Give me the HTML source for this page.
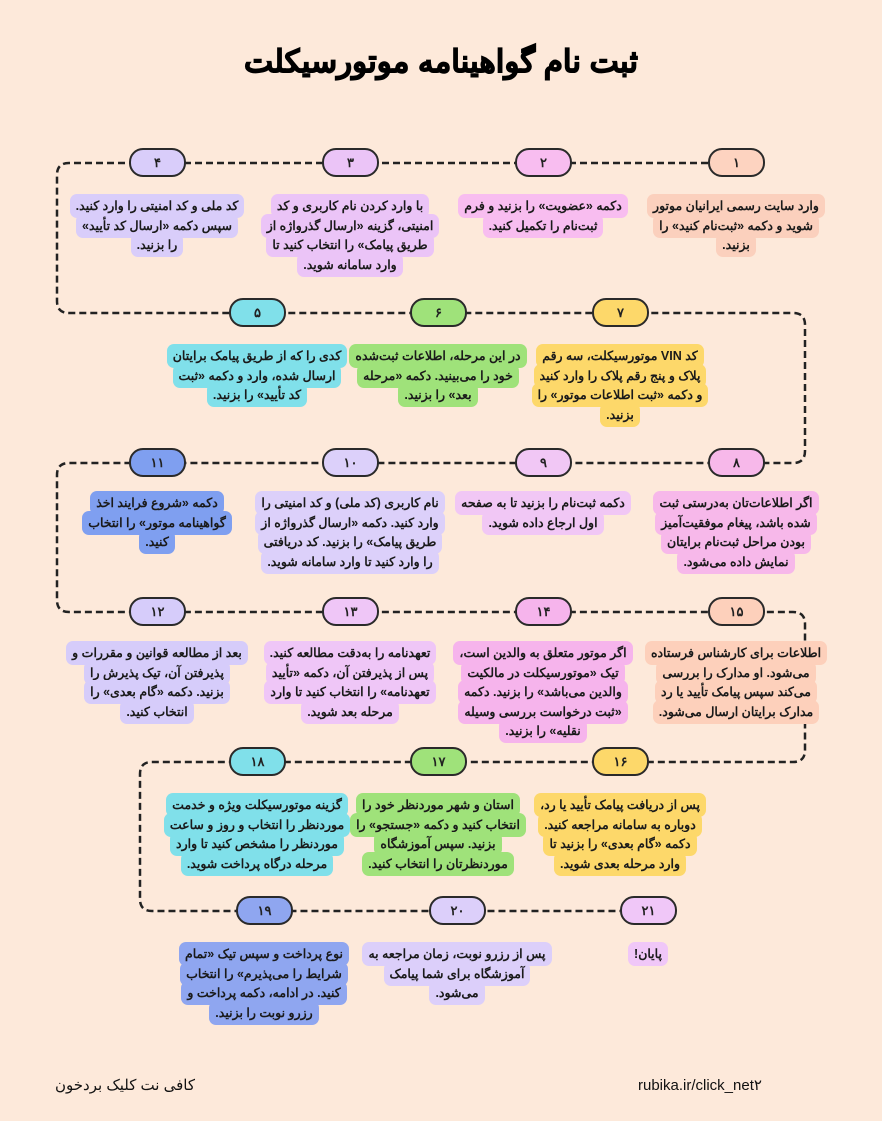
<!DOCTYPE html>
<html><head><meta charset="utf-8"><style>
body{margin:0;width:882px;height:1121px;background:#fde9da;position:relative;overflow:hidden;font-family:"Liberation Sans","Noto Sans CJK SC",sans-serif;}
.t{position:absolute;top:44px;left:0;width:882px;text-align:center;font-size:31px;font-weight:900;direction:rtl;color:#000;-webkit-text-stroke:1px #000;}
.p{position:absolute;width:53px;height:25px;border:2px solid #2a2a2a;border-radius:14px;text-align:center;line-height:25px;font-size:13px;font-weight:bold;color:#222;box-sizing:content-box;}
.b{position:absolute;width:190px;text-align:center;direction:rtl;font-size:12.5px;font-weight:bold;line-height:19.5px;color:#1a1a1a;}
.b span{padding:5px 6px;border-radius:7px;-webkit-box-decoration-break:clone;box-decoration-break:clone;}
.f{position:absolute;top:1076px;font-size:15px;color:#111;}
</style></head><body>
<div class="t">ثبت نام گواهینامه موتورسیکلت</div>
<svg width="882" height="1121" style="position:absolute;left:0;top:0">
<path d="M708,163 H69 Q57,163 57,175 V301 Q57,313 69,313 H793 Q805,313 805,325 V451 Q805,463 793,463 H69 Q57,463 57,475 V600 Q57,612 69,612 H793 Q805,612 805,624 V750 Q805,762 793,762 H152 Q140,762 140,774 V899 Q140,911 152,911 H620" fill="none" stroke="#222" stroke-width="2.5" stroke-dasharray="7,4"/>
</svg>
<!-- row1 -->
<div class="p" style="left:708px;top:148px;background:#fdd3c0">۱</div>
<div class="p" style="left:515px;top:148px;background:#f8bdf0">۲</div>
<div class="p" style="left:322px;top:148px;background:#ebc4f7">۳</div>
<div class="p" style="left:129px;top:148px;background:#d9cdfa">۴</div>
<div class="b" style="left:641px;top:197px"><span style="background:#fbd0bd">وارد سایت رسمی ایرانیان موتور<br>شوید و دکمه «ثبت‌نام کنید» را<br>بزنید.</span></div>
<div class="b" style="left:448px;top:197px"><span style="background:#f8bdf0">دکمه «عضویت» را بزنید و فرم<br>ثبت‌نام را تکمیل کنید.</span></div>
<div class="b" style="left:255px;top:197px"><span style="background:#ebc4f7">با وارد کردن نام کاربری و کد<br>امنیتی، گزینه «ارسال گذرواژه از<br>طریق پیامک» را انتخاب کنید تا<br>وارد سامانه شوید.</span></div>
<div class="b" style="left:62px;top:197px"><span style="background:#d9cdfa">کد ملی و کد امنیتی را وارد کنید.<br>سپس دکمه «ارسال کد تأیید»<br>را بزنید.</span></div>
<!-- row2 -->
<div class="p" style="left:592px;top:298px;background:#fdd86a">۷</div>
<div class="p" style="left:410px;top:298px;background:#9fe27a">۶</div>
<div class="p" style="left:229px;top:298px;background:#80e0ea">۵</div>
<div class="b" style="left:525px;top:347px"><span style="background:#fdd86a">کد VIN موتورسیکلت، سه رقم<br>پلاک و پنج رقم پلاک را وارد کنید<br>و دکمه «ثبت اطلاعات موتور» را<br>بزنید.</span></div>
<div class="b" style="left:343px;top:347px"><span style="background:#9fe27a">در این مرحله، اطلاعات ثبت‌شده<br>خود را می‌بینید. دکمه «مرحله<br>بعد» را بزنید.</span></div>
<div class="b" style="left:162px;top:347px"><span style="background:#80e0ea">کدی را که از طریق پیامک برایتان<br>ارسال شده، وارد و دکمه «ثبت<br>کد تأیید» را بزنید.</span></div>
<!-- row3 -->
<div class="p" style="left:708px;top:448px;background:#f7b8ea">۸</div>
<div class="p" style="left:515px;top:448px;background:#f1c7f5">۹</div>
<div class="p" style="left:322px;top:448px;background:#dcd0fa">۱۰</div>
<div class="p" style="left:129px;top:448px;background:#7f9ff0">۱۱</div>
<div class="b" style="left:641px;top:494px"><span style="background:#f7b8ea">اگر اطلاعات‌تان به‌درستی ثبت<br>شده باشد، پیغام موفقیت‌آمیز<br>بودن مراحل ثبت‌نام برایتان<br>نمایش داده می‌شود.</span></div>
<div class="b" style="left:448px;top:494px"><span style="background:#f1c7f5">دکمه ثبت‌نام را بزنید تا به صفحه<br>اول ارجاع داده شوید.</span></div>
<div class="b" style="left:255px;top:494px"><span style="background:#dcd0fa">نام کاربری (کد ملی) و کد امنیتی را<br>وارد کنید. دکمه «ارسال گذرواژه از<br>طریق پیامک» را بزنید. کد دریافتی<br>را وارد کنید تا وارد سامانه شوید.</span></div>
<div class="b" style="left:62px;top:494px"><span style="background:#7f9ff0">دکمه «شروع فرایند اخذ<br>گواهینامه موتور» را انتخاب<br>کنید.</span></div>
<!-- row4 -->
<div class="p" style="left:708px;top:597px;background:#fdd0bb">۱۵</div>
<div class="p" style="left:515px;top:597px;background:#f6b4ec">۱۴</div>
<div class="p" style="left:322px;top:597px;background:#efc6f7">۱۳</div>
<div class="p" style="left:129px;top:597px;background:#d6ccfa">۱۲</div>
<div class="b" style="left:641px;top:644px"><span style="background:#fdd0bb">اطلاعات برای کارشناس فرستاده<br>می‌شود. او مدارک را بررسی<br>می‌کند سپس پیامک تأیید یا رد<br>مدارک برایتان ارسال می‌شود.</span></div>
<div class="b" style="left:448px;top:644px"><span style="background:#f6b4ec">اگر موتور متعلق به والدین است،<br>تیک «موتورسیکلت در مالکیت<br>والدین می‌باشد» را بزنید. دکمه<br>«ثبت درخواست بررسی وسیله<br>نقلیه» را بزنید.</span></div>
<div class="b" style="left:255px;top:644px"><span style="background:#efc6f7">تعهدنامه را به‌دقت مطالعه کنید.<br>پس از پذیرفتن آن، دکمه «تأیید<br>تعهدنامه» را انتخاب کنید تا وارد<br>مرحله بعد شوید.</span></div>
<div class="b" style="left:62px;top:644px"><span style="background:#d6ccfa">بعد از مطالعه قوانین و مقررات و<br>پذیرفتن آن، تیک پذیرش را<br>بزنید. دکمه «گام بعدی» را<br>انتخاب کنید.</span></div>
<!-- row5 -->
<div class="p" style="left:592px;top:747px;background:#fdd86a">۱۶</div>
<div class="p" style="left:410px;top:747px;background:#9fe27a">۱۷</div>
<div class="p" style="left:229px;top:747px;background:#80e0ea">۱۸</div>
<div class="b" style="left:525px;top:796px"><span style="background:#fdd86a">پس از دریافت پیامک تأیید یا رد،<br>دوباره به سامانه مراجعه کنید.<br>دکمه «گام بعدی» را بزنید تا<br>وارد مرحله بعدی شوید.</span></div>
<div class="b" style="left:343px;top:796px"><span style="background:#9fe27a">استان و شهر موردنظر خود را<br>انتخاب کنید و دکمه «جستجو» را<br>بزنید. سپس آموزشگاه<br>موردنظرتان را انتخاب کنید.</span></div>
<div class="b" style="left:162px;top:796px"><span style="background:#80e0ea">گزینه موتورسیکلت ویژه و خدمت<br>موردنظر را انتخاب و روز و ساعت<br>موردنظر را مشخص کنید تا وارد<br>مرحله درگاه پرداخت شوید.</span></div>
<!-- row6 -->
<div class="p" style="left:620px;top:896px;background:#f0c7f8">۲۱</div>
<div class="p" style="left:429px;top:896px;background:#dccffa">۲۰</div>
<div class="p" style="left:236px;top:896px;background:#8fa6f0">۱۹</div>
<div class="b" style="left:553px;top:945px"><span style="background:#f0c7f8">پایان!</span></div>
<div class="b" style="left:362px;top:945px"><span style="background:#dccffa">پس از رزرو نوبت، زمان مراجعه به<br>آموزشگاه برای شما پیامک<br>می‌شود.</span></div>
<div class="b" style="left:169px;top:945px"><span style="background:#8fa6f0">نوع پرداخت و سپس تیک «تمام<br>شرایط را می‌پذیرم» را انتخاب<br>کنید. در ادامه، دکمه پرداخت و<br>رزرو نوبت را بزنید.</span></div>
<div class="f" style="left:55px;direction:rtl;width:150px;text-align:left">کافی نت کلیک بردخون</div>
<div class="f" style="left:638px">rubika.ir/click_net۲</div>
</body></html>
